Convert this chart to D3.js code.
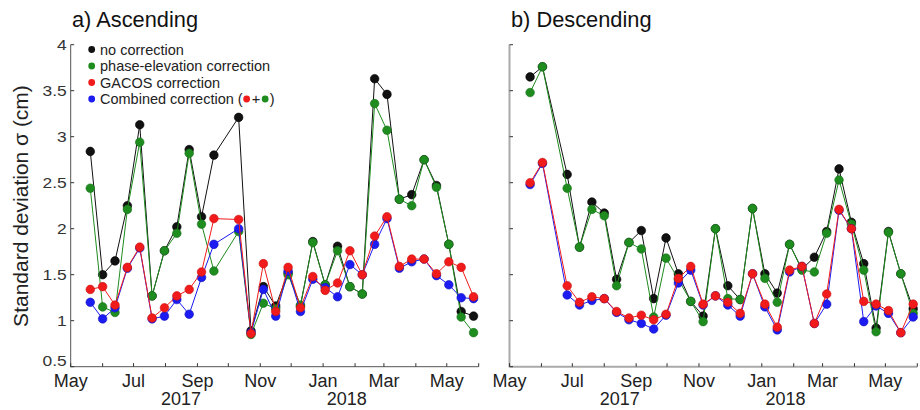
<!DOCTYPE html>
<html><head><meta charset="utf-8">
<script src="https://cdn.jsdelivr.net/npm/d3@7"></script>
<style>
html,body{margin:0;padding:0;background:#fff;}
svg text{font-family:"Liberation Sans",Arial,sans-serif;}
</style></head>
<body><svg id="c" width="920" height="410"></svg>
<script>
const datesAsc = ["2017-05-20","2017-06-01","2017-06-13","2017-06-25","2017-07-07","2017-07-19","2017-07-31","2017-08-12","2017-08-24","2017-09-05","2017-09-17","2017-10-11","2017-10-23","2017-11-04","2017-11-16","2017-11-28","2017-12-10","2017-12-22","2018-01-03","2018-01-15","2018-01-27","2018-02-08","2018-02-20","2018-03-04","2018-03-16","2018-03-28","2018-04-09","2018-04-21","2018-05-03","2018-05-15","2018-05-27"];
const ascNone = [2.84,1.50,1.65,2.25,3.13,1.27,1.76,2.02,2.86,2.13,2.80,3.21,0.89,1.37,1.16,1.52,1.16,1.86,1.39,1.81,1.37,1.29,3.63,3.46,2.32,2.37,2.75,2.47,1.83,1.10,1.05];
const ascPhase = [2.44,1.15,1.09,2.21,2.94,1.27,1.76,1.95,2.82,2.05,1.54,1.97,0.85,1.19,1.13,1.50,1.17,1.85,1.39,1.76,1.37,1.29,3.36,3.07,2.32,2.25,2.75,2.45,1.83,1.04,0.87];
const ascGacos = [1.34,1.37,1.17,1.58,1.80,1.03,1.14,1.27,1.34,1.53,2.11,2.10,0.86,1.62,1.10,1.58,1.14,1.48,1.33,1.41,1.76,1.50,1.92,2.13,1.59,1.67,1.67,1.51,1.64,1.58,1.26];
const ascComb = [1.20,1.02,1.14,1.57,1.79,1.02,1.05,1.23,1.07,1.47,1.83,2.00,0.87,1.34,1.05,1.54,1.10,1.45,1.36,1.26,1.61,1.50,1.83,2.11,1.57,1.64,1.67,1.49,1.39,1.25,1.24];

const datesDesc = ["2017-05-21","2017-06-02","2017-06-26","2017-07-08","2017-07-20","2017-08-01","2017-08-13","2017-08-25","2017-09-06","2017-09-18","2017-09-30","2017-10-12","2017-10-24","2017-11-05","2017-11-17","2017-11-29","2017-12-11","2017-12-23","2018-01-04","2018-01-16","2018-01-28","2018-02-09","2018-02-21","2018-03-05","2018-03-17","2018-03-29","2018-04-10","2018-04-22","2018-05-04","2018-05-16","2018-05-28"];
const descNone = [3.65,3.76,2.59,1.80,2.29,2.17,1.45,1.85,1.98,1.24,1.90,1.51,1.21,1.05,2.00,1.38,1.23,2.22,1.51,1.30,1.83,1.56,1.69,1.97,2.65,2.07,1.62,0.92,1.97,1.51,1.13];
const descPhase = [3.48,3.76,2.44,1.80,2.21,2.14,1.38,1.85,1.78,1.04,1.68,1.45,1.21,0.99,2.00,1.24,1.23,2.22,1.46,1.20,1.83,1.55,1.53,1.95,2.53,2.05,1.55,0.88,1.96,1.51,1.08];
const descGacos = [2.50,2.72,1.38,1.20,1.26,1.24,1.10,1.03,1.06,1.01,1.07,1.46,1.59,1.18,1.27,1.20,1.08,1.51,1.18,0.93,1.55,1.59,0.97,1.29,2.21,2.00,1.21,1.18,1.11,0.87,1.18];
const descComb = [2.48,2.71,1.28,1.17,1.22,1.24,1.09,1.01,0.97,0.91,1.06,1.41,1.55,1.17,1.27,1.17,1.05,1.51,1.15,0.90,1.53,1.59,0.97,1.18,2.20,2.00,0.99,1.16,1.08,0.87,1.04];

// legend order: none, phase, gacos, combined
const seriesNames = ["no correction","phase-elevation correction","GACOS correction","Combined correction ("];
const seriesColors = ["#111111","#1e8c1e","#f21b1b","#1b1bf2"];
const strokeColors = ["#000000","#16701a","#c81010","#1010c0"];
const drawOrder = [0,1,3,2];
const yTicks = [0.5,1,1.5,2,2.5,3,3.5,4];
const yTickLabels = ["0.5","1","1.5","2","2.5","3","3.5","4"];
const xDomain = ["2017-05-01","2018-06-01"];
const yearLabels = [["2017","2017-08-16"],["2018","2018-01-24"]];
const titles = ["a) Ascending","b) Descending"];
const yLabel = "Standard deviation σ (cm)";

const parse = d3.utcParse("%Y-%m-%d");
const svg = d3.select("#c");
const y = d3.scaleLinear().domain([0.5,4]).range([366.7,44.7]);

function panel(x0, x1, dates, series, opts){
  const x = d3.scaleUtc().domain(xDomain.map(parse)).range([x0,x1]);
  const g = svg.append("g");
  const months = d3.utcMonth.range(parse(xDomain[0]), d3.utcDay.offset(parse(xDomain[1]),1));
  g.append("line").attr("x1",x0).attr("x2",x0).attr("y1",y(4)).attr("y2",y(0.5)+0.5)
    .attr("stroke",opts.axisColor).attr("stroke-width",opts.axisW);
  g.append("line").attr("x1",x0).attr("x2",x1).attr("y1",y(0.5)).attr("y2",y(0.5))
    .attr("stroke",opts.axisColor).attr("stroke-width",opts.axisW);
  g.selectAll(".xt").data(months).join("line")
    .attr("x1",d=>x(d)).attr("x2",d=>x(d)).attr("y1",y(0.5)).attr("y2",y(0.5)-3.5)
    .attr("stroke","#333").attr("stroke-width",1);
  g.selectAll(".xl").data(months.filter(d=>d.getUTCMonth()%2===0)).join("text")
    .attr("x",d=>x(d)).attr("y",386.5).attr("text-anchor","middle")
    .attr("font-size",18).attr("fill","#222").text(d=>d3.utcFormat("%b")(d));
  g.selectAll(".yl").data(yearLabels).join("text")
    .attr("x",d=>x(parse(d[1]))).attr("y",405).attr("text-anchor","middle")
    .attr("font-size",18).attr("fill","#222").text(d=>d[0]);
  g.selectAll(".yt").data(yTicks).join("line")
    .attr("x1",x0).attr("x2",x0+3.5).attr("y1",d=>y(d)).attr("y2",d=>y(d))
    .attr("stroke","#333").attr("stroke-width",1);
  if(opts.yLabels){
    g.selectAll(".ytl").data(yTicks).join("text")
      .attr("transform",d=>`translate(${x0-4},${y(d)+(d===0.5?-0.5:5)}) scale(1.2,1)`)
      .attr("text-anchor","end").attr("font-size",14.5).attr("fill","#333")
      .text((d,i)=>yTickLabels[i]);
  }
  g.append("text").attr("x",opts.titleX).attr("y",27).attr("font-size",21.8).attr("fill","#111").text(opts.title);
  const line = d3.line().x(d=>x(d[0])).y(d=>y(d[1]));
  drawOrder.forEach(k=>{
    const vals = series[k];
    const pts = dates.map((d,i)=>[parse(d),vals[i]]);
    g.append("path").attr("d",line(pts)).attr("fill","none")
      .attr("stroke",seriesColors[k]).attr("stroke-width",1);
    g.selectAll(null).data(pts).join("circle")
      .attr("cx",d=>x(d[0])).attr("cy",d=>y(d[1])).attr("r",4.3)
      .attr("fill",seriesColors[k]).attr("stroke",strokeColors[k]).attr("stroke-width",0.6);
  });
}

panel(70.7, 478.7, datesAsc, [ascNone,ascPhase,ascGacos,ascComb],
  {axisColor:"#555",axisW:1,yLabels:true,title:titles[0],titleX:72});
panel(509.5, 917.3, datesDesc, [descNone,descPhase,descGacos,descComb],
  {axisColor:"#aaa",axisW:2,yLabels:false,title:titles[1],titleX:511});

// y-axis label
svg.append("text").attr("transform","translate(27.5,206) rotate(-90)")
  .attr("text-anchor","middle").attr("font-size",21).attr("fill","#222").text(yLabel);

// legend
const leg = svg.append("g");
const rowsY = [49.5,66,82.5,99];
seriesNames.forEach((name,i)=>{
  leg.append("circle").attr("cx",91.7).attr("cy",rowsY[i]).attr("r",3.4)
    .attr("fill",seriesColors[i]);
  const t = leg.append("text").attr("x",100).attr("y",rowsY[i]+5).attr("font-size",14.5)
    .attr("fill","#222").text(name);
  if(i===3){
    const w = t.node().getComputedTextLength();
    let cx = 100 + w + 4;
    leg.append("circle").attr("cx",cx).attr("cy",rowsY[i]).attr("r",3.4).attr("fill",seriesColors[2]);
    leg.append("text").attr("x",cx+5).attr("y",rowsY[i]+5).attr("font-size",14.5).attr("fill","#222").text("+");
    cx += 18.5;
    leg.append("circle").attr("cx",cx).attr("cy",rowsY[i]).attr("r",3.4).attr("fill",seriesColors[1]);
    leg.append("text").attr("x",cx+4.5).attr("y",rowsY[i]+5).attr("font-size",14.5).attr("fill","#222").text(")");
  }
});
</script>
</body></html>
